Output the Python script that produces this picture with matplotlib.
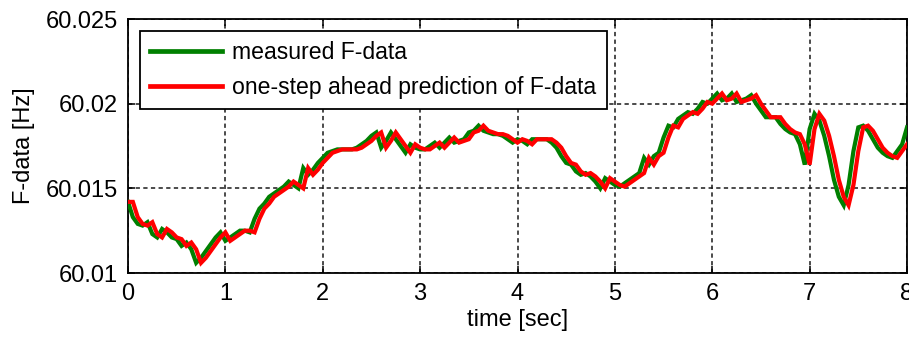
import matplotlib
matplotlib.use("Agg")
import matplotlib.pyplot as plt
import numpy as np

plt.rcParams['font.family'] = ['Liberation Sans', 'DejaVu Sans']

# Sample times [sec], one sample every 0.05 s
t_start, t_step, n_samples = 0.0, 0.05, 161

# Measured frequency, mHz above 60 Hz
measured_mhz = [
    14.2, 13.3, 12.9, 12.8, 13.0, 12.3, 12.1, 12.6, 12.4, 12.1,
    12.0, 11.6, 11.8, 11.4, 10.6, 10.9, 11.3, 11.7, 12.1, 12.4,
    11.9, 12.1, 12.3, 12.5, 12.5, 12.4, 13.2, 13.8, 14.1, 14.5,
    14.7, 14.9, 15.1, 15.4, 15.2, 15.0, 16.2, 15.8, 16.1, 16.5,
    16.8, 17.1, 17.2, 17.3, 17.3, 17.3, 17.3, 17.4, 17.6, 17.8,
    18.1, 18.3, 17.4, 17.8, 18.3, 17.9, 17.5, 17.1, 17.6, 17.4,
    17.3, 17.3, 17.5, 17.7, 17.4, 17.7, 18.0, 17.7, 17.8, 17.9,
    18.3, 18.4, 18.7, 18.4, 18.3, 18.2, 18.2, 18.1, 17.9, 17.7,
    17.9, 17.8, 17.6, 17.9, 17.9, 17.9, 17.9, 17.7, 17.4, 16.9,
    16.5, 16.4, 16.0, 15.8, 15.9, 15.7, 15.4, 15.0, 15.6, 15.4,
    15.2, 15.1, 15.3, 15.5, 15.7, 15.9, 16.8, 16.4, 16.9, 17.1,
    18.0, 18.7, 18.6, 19.1, 19.3, 19.5, 19.4, 19.7, 20.1, 20.0,
    20.3, 20.6, 20.2, 20.3, 20.6, 20.1, 20.2, 20.3, 20.5, 20.0,
    19.6, 19.2, 19.2, 19.2, 18.8, 18.5, 18.3, 18.2, 17.6, 16.4,
    18.5, 19.4, 19.0, 18.1, 16.9, 15.5, 14.5, 14.0, 15.2, 17.2,
    18.6, 18.7, 18.4, 17.9, 17.4, 17.1, 16.9, 16.8, 17.2, 17.6,
    18.6,
]

# One-step ahead prediction, mHz above 60 Hz
predicted_mhz = [
    14.2, 14.2, 13.3, 12.9, 12.8, 13.0, 12.3, 12.1, 12.6, 12.4,
    12.1, 12.0, 11.6, 11.8, 11.4, 10.6, 10.9, 11.3, 11.7, 12.1,
    12.4, 11.9, 12.1, 12.3, 12.5, 12.5, 12.4, 13.2, 13.8, 14.1,
    14.5, 14.7, 14.9, 15.1, 15.4, 15.2, 15.0, 16.2, 15.8, 16.1,
    16.5, 16.8, 17.1, 17.2, 17.3, 17.3, 17.3, 17.3, 17.4, 17.6,
    17.8, 18.1, 18.3, 17.4, 17.8, 18.3, 17.9, 17.5, 17.1, 17.6,
    17.4, 17.3, 17.3, 17.5, 17.7, 17.4, 17.7, 18.0, 17.7, 17.8,
    17.9, 18.3, 18.4, 18.7, 18.4, 18.3, 18.2, 18.2, 18.1, 17.9,
    17.7, 17.9, 17.8, 17.6, 17.9, 17.9, 17.9, 17.9, 17.7, 17.4,
    16.9, 16.5, 16.4, 16.0, 15.8, 15.9, 15.7, 15.4, 15.0, 15.6,
    15.4, 15.2, 15.1, 15.3, 15.5, 15.7, 15.9, 16.8, 16.4, 16.9,
    17.1, 18.0, 18.7, 18.6, 19.1, 19.3, 19.5, 19.4, 19.7, 20.1,
    20.0, 20.3, 20.6, 20.2, 20.3, 20.6, 20.1, 20.2, 20.3, 20.5,
    20.0, 19.6, 19.2, 19.2, 19.2, 18.8, 18.5, 18.3, 18.2, 17.6,
    16.4, 18.5, 19.4, 19.0, 18.1, 16.9, 15.5, 14.5, 14.0, 15.2,
    17.2, 18.6, 18.7, 18.4, 17.9, 17.4, 17.1, 16.9, 16.8, 17.2,
    17.6,
]

x_ticks = [0, 1, 2, 3, 4, 5, 6, 7, 8]
x_tick_labels = ['0', '1', '2', '3', '4', '5', '6', '7', '8']
y_ticks = [60.010, 60.015, 60.020, 60.025]
y_tick_labels = ['60.01', '60.015', '60.02', '60.025']

series_labels = ['measured F-data', 'one-step ahead prediction of F-data']

t = t_start + t_step * np.arange(n_samples)
f_meas = 60.0 + np.array(measured_mhz) / 1000.0
f_pred = 60.0 + np.array(predicted_mhz) / 1000.0

fig = plt.figure(figsize=(9.09, 3.39), dpi=100)
ax = fig.add_axes([128 / 909, 1 - 273 / 339, 779 / 909, 254 / 339])

ax.plot(t, f_meas, color='#008000', lw=3.0, solid_joinstyle='miter',
        label=series_labels[0], zorder=3)
ax.plot(t, f_pred, color='#ff0000', lw=3.0, solid_joinstyle='miter',
        label=series_labels[1], zorder=4)

ax.set_xlim(0, 8)
ax.set_ylim(60.010, 60.025)
ax.set_xticks(x_ticks)
ax.set_xticklabels(x_tick_labels)
ax.set_yticks(y_ticks)
ax.set_yticklabels(y_tick_labels)

ax.grid(True, color='#1a1a1a', linestyle=(0, (2.8, 2.2)), linewidth=1.1)
ax.tick_params(direction='in', length=5, width=1.1, top=True, right=True,
               labelsize=17, pad=7, colors='black')
for s in ax.spines.values():
    s.set_linewidth(1.3)
    s.set_color('black')

ax.set_xlabel('time [sec]', fontsize=17, labelpad=3)
ax.set_ylabel('F-data [Hz]', fontsize=17, labelpad=8)

leg = ax.legend(loc='upper left', bbox_to_anchor=(12 / 779, 242 / 254),
                borderaxespad=0, fontsize=16.6, fancybox=False,
                framealpha=1, edgecolor='black', handlelength=3.1,
                handletextpad=0.45, labelspacing=0.5, borderpad=0.45)
leg.get_frame().set_linewidth(1.3)
for h in leg.get_lines():
    h.set_linewidth(3.4)

fig.savefig('out.png', dpi=100)
